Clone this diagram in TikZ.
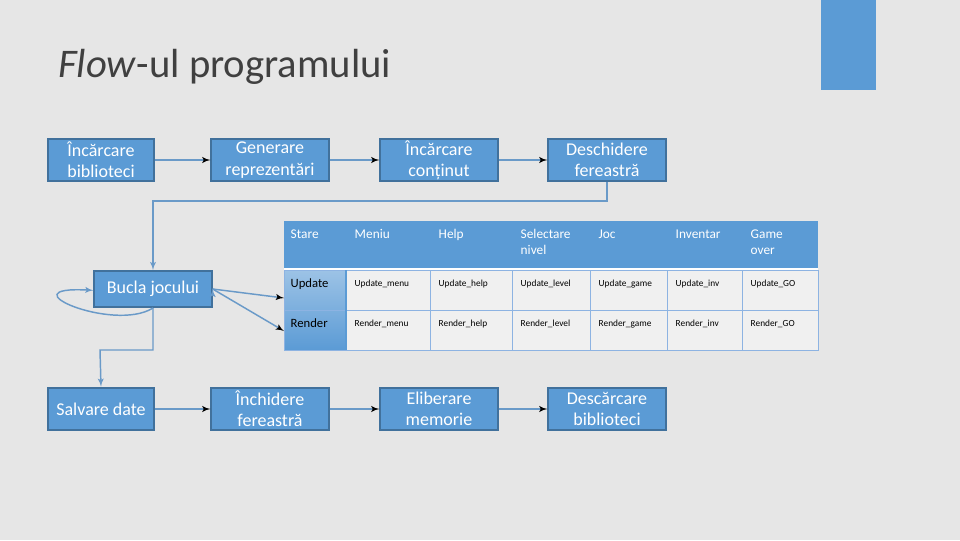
\documentclass[tikz,border=0pt]{standalone}
\usepackage{fontspec}
\setmainfont{Carlito}
\usetikzlibrary{positioning}
\usetikzlibrary{arrows}
\definecolor{slidebg}{HTML}{E6E6E6}
\definecolor{boxblue}{HTML}{5B9BD5}
\definecolor{boxline}{HTML}{41719C}
\definecolor{arrowblue}{HTML}{6A9AC8}
\definecolor{gridblue}{HTML}{8DB3E2}
\begin{document}
\begin{tikzpicture}[>=latex', x=0.75pt, y=-0.75pt]
    \tikzset{block/.style= {draw=boxline, line width=1.5pt, fill=boxblue, text=white, align=center, minimum width=88pt, minimum height=32pt, inner sep=1pt, font=\fontsize{13.5}{16}\selectfont},
             flow/.style= {draw=arrowblue, line width=1.1pt},
             head/.style= {text=white, anchor=north west, align=left, font=\fontsize{10}{12}\selectfont},
             cell/.style= {anchor=north west, font=\fontsize{7}{8}\selectfont}}

    % background
    \fill[slidebg] (0,0) rectangle (960,540);
    \useasboundingbox (0,0) rectangle (960,540);
    \fill[boxblue] (821,0) rectangle (876,90);
    \node[anchor=west, font=\fontsize{30.5}{32}\selectfont, text=black!75, inner sep=0pt] (title) at (58,67) {\textit{Flow}-ul programului};

    % flow boxes
    \node [block, minimum width=80pt] (lib) at (101,160) {Încărcare\\biblioteci};
    \node [block] (rep) at (270,160) {Generare\\reprezentări};
    \node [block] (cont) at (439,160) {Încărcare\\conținut};
    \node [block] (win) at (607,160) {Deschidere\\fereastră};
    \node [block, minimum height=27pt] (loop) at (153,289) {Bucla jocului};
    \node [block, minimum width=80pt] (save) at (101,409) {Salvare date};
    \node [block] (close) at (270,409) {Închidere\\fereastră};
    \node [block] (mem) at (439,409) {Eliberare\\memorie};
    \node [block] (unload) at (607,409) {Descărcare\\biblioteci};

    % table
    \fill[boxblue] (284,221) rectangle (818,268);
    \fill[slidebg!60!white] (284,270) rectangle (818,350);
    \shade[top color=boxblue!60, bottom color=boxblue] (284,270) rectangle (346,350);
    \draw[white, line width=1.5pt] (284,269) -- (818,269);
    \draw[gridblue, line width=0.7pt] (284,270) rectangle (818,350) (284,310) -- (818,310);
    \foreach \x in {346,430,512,590,667,742}
        \draw[gridblue, line width=0.7pt] (\x,270) -- (\x,350);
    \draw[boxblue, line width=1.5pt] (346,270) -- (346,350);
    \node [head] (stare) at (286,225) {Stare};
    \node [head] (meniu) at (350,225) {Meniu};
    \node [head] (help) at (434,225) {Help};
    \node [head] (nivel) at (516,225) {Selectare\\nivel};
    \node [head] (joc) at (594,225) {Joc};
    \node [head] (inv) at (671,225) {Inventar};
    \node [head] (over) at (746,225) {Game\\over};
    \node [cell, font=\fontsize{9.5}{10}\selectfont] (upd) at (286,274) {Update};
    \node [cell, font=\fontsize{9.5}{10}\selectfont] (ren) at (286,314) {Render};
    \foreach \x/\c in {350/menu,434/help,516/level,594/game,671/inv,746/GO} {
        \node [cell] (upd-\c) at (\x,275) {Update\_\c};
        \node [cell] (ren-\c) at (\x,315) {Render\_\c};
    }
    \coordinate (updin) at (284,298);
    \coordinate (renin) at (284,331);
    \coordinate (top2) at (153,201);
    \coordinate (bot2) at (100,350);

    \path[draw, flow, ->]
                (lib) edge (rep)
                (rep) edge (cont)
                (cont) edge (win)
                (save) edge (close)
                (close) edge (mem)
                (mem) edge (unload)
                (loop.east) edge (updin)
                (loop.east) edge (renin)
                ;
    \draw[flow, ->] (win.south) |- (top2) -- (loop.north);
    \draw[flow, ->] (loop.south) |- (bot2) -- (save.north);
    \draw[flow, ->] (loop.south) .. controls +(-40,25) and +(-90,-5) .. ([yshift=-1pt]loop.west);
\end{tikzpicture}
\end{document}
